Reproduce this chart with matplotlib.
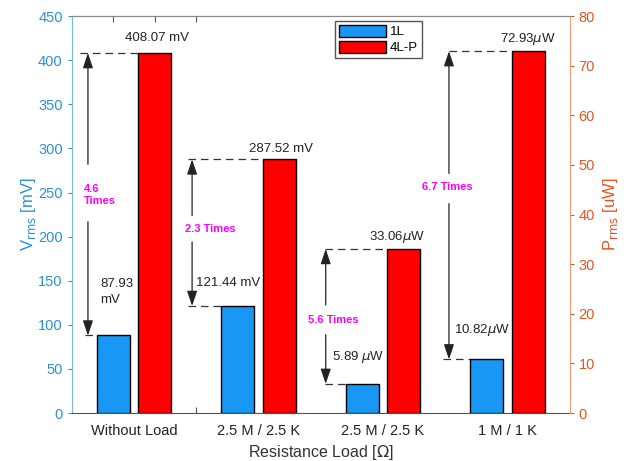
import matplotlib
matplotlib.use('Agg')
import matplotlib.pyplot as plt
from matplotlib.patches import Patch

plt.rcParams['font.family'] = ['Liberation Sans', 'DejaVu Sans']
plt.rcParams['mathtext.fontset'] = 'dejavusans'

groups = ['Without Load', '2.5 M / 2.5 K', '2.5 M / 2.5 K', '1 M / 1 K']
series = ['1L', '4L-P']
# first two groups on the voltage axis (mV), last two on the power axis (uW)
v_1l = [87.93, 121.44]
v_4lp = [408.07, 287.52]
p_1l = [5.89, 10.82]
p_4lp = [33.06, 72.93]
ratios = ['4.6\nTimes', '2.3 Times', '5.6 Times', '6.7 Times']

blue = '#1897f5'
red = '#ff0000'
lblue = '#2f8fd3'
orange = '#e5541e'

fig = plt.figure(figsize=(6.24, 4.61), dpi=100)
ax = fig.add_axes([0.115, 0.104, 0.798, 0.861])
ax2 = ax.twinx()

w = 0.8
xb = [1, 4, 7, 10]
xr = [2, 5, 8, 11]

ax.bar(xb[:2], v_1l, w, color=blue, edgecolor='black', lw=1, zorder=3)
ax.bar(xr[:2], v_4lp, w, color=red, edgecolor='black', lw=1, zorder=3)
ax2.bar(xb[2:], p_1l, w, color=blue, edgecolor='black', lw=1, zorder=3)
ax2.bar(xr[2:], p_4lp, w, color=red, edgecolor='black', lw=1, zorder=3)

ax.set_xlim(0, 12)
ax.set_ylim(0, 450)
ax2.set_ylim(0, 80)
ax.set_yticks(range(0, 451, 50))
ax2.set_yticks(range(0, 81, 10))
ax.set_xticks([1, 2, 3])
ax.set_xticklabels([])
ax.tick_params(axis='x', direction='in', top=True, length=4, color='#555555')
ax.tick_params(axis='y', colors=lblue, labelsize=10.5, length=3)
ax2.tick_params(axis='y', colors=orange, labelsize=10.5, length=3)

ax.spines['left'].set_color('#7ab6e6')
ax2.spines['left'].set_visible(False)
ax.spines['right'].set_visible(False)
ax2.spines['right'].set_color('#f09a78')
ax.spines['top'].set_color('#8a8a8a')
ax2.spines['top'].set_color('#8a8a8a')
ax.spines['bottom'].set_color('#5a5050')
ax2.spines['bottom'].set_visible(False)

ax.set_ylabel('V$_{\\rm rms}$ [mV]', color=lblue, fontsize=12, labelpad=0)
ax2.set_ylabel('P$_{\\rm rms}$ [uW]', color=orange, fontsize=12, labelpad=4)
ax.set_xlabel('Resistance Load [$\\Omega$]', fontsize=11.5, color='#333333', labelpad=18)

for i, g in enumerate(groups):
    ax.text((xb[i] + xr[i]) / 2, -0.027, g, transform=ax.get_xaxis_transform(),
            ha='center', va='top', fontsize=10.5, color='#222222')

tc = '#222222'
fs = 9.5
# value labels
ax.text(2.05, 408.07 + 10, '408.07 mV', ha='center', va='bottom', fontsize=fs, color=tc)
ax.text(5.05, 287.52 + 5, '287.52 mV', ha='center', va='bottom', fontsize=fs, color=tc)
ax.text(0.68, 137, '87.93\nmV', ha='left', va='center', fontsize=fs, color=tc, linespacing=1.5)
ax.text(3.0, 148, '121.44 mV', ha='left', va='center', fontsize=fs, color=tc)
ax2.text(7.85, 33.06 + 0.8, '33.06$\\mu$W', ha='center', va='bottom', fontsize=fs, color=tc)
ax2.text(6.27, 11.2, '5.89 $\\mu$W', ha='left', va='center', fontsize=fs, color=tc)
ax2.text(9.2, 16.8, '10.82$\\mu$W', ha='left', va='center', fontsize=fs, color=tc)
ax2.text(11.0, 72.93 + 0.8, '72.93$\\mu$W', ha='center', va='bottom', fontsize=fs, color=tc)

dash = dict(ls=(0, (6, 4)), color='#333333', lw=0.9, zorder=2)
ax.plot([0.2, 1.6], [v_4lp[0]] * 2, **dash)
ax.plot([0.32, 0.6], [v_1l[0]] * 2, **dash)
ax.plot([2.8, 4.6], [v_4lp[1]] * 2, **dash)
ax.plot([2.8, 3.6], [v_1l[1]] * 2, **dash)
ax2.plot([6.1, 7.6], [p_4lp[0]] * 2, **dash)
ax2.plot([6.1, 6.6], [p_1l[0]] * 2, **dash)
ax2.plot([9.09, 10.6], [p_4lp[1]] * 2, **dash)
ax2.plot([8.94, 9.6], [p_1l[1]] * 2, **dash)

arr = dict(arrowstyle='-|>,head_length=0.65,head_width=0.22', color='#222222', lw=0.9,
           mutation_scale=14, shrinkA=0, shrinkB=0)
mag = dict(color='#ff00ff', fontsize=8, fontweight='bold', va='center')

def ratio_arrow(a, x, top, bottom, ty, txt, tx, ha, gap_up, gap_dn):
    a.text(tx, ty, txt, ha=ha, multialignment='left', **mag)
    a.annotate('', xy=(x, top), xytext=(x, ty + gap_up), arrowprops=arr)
    a.annotate('', xy=(x, bottom), xytext=(x, ty - gap_dn), arrowprops=arr)

ratio_arrow(ax, 0.39, v_4lp[0], v_1l[0], 247, ratios[0], 0.3, 'left', 35, 30)
ratio_arrow(ax, 2.9, v_4lp[1], v_1l[1], 209, ratios[1], 3.35, 'center', 15, 15)
ratio_arrow(ax2, 6.12, p_4lp[0], p_1l[0], 18.8, ratios[2], 6.3, 'center', 3.0, 3.0)
ratio_arrow(ax2, 9.09, p_4lp[1], p_1l[1], 45.5, ratios[3], 9.05, 'center', 2.8, 3.3)

handles = [Patch(facecolor=blue, edgecolor='black', label=series[0]),
           Patch(facecolor=red, edgecolor='black', label=series[1])]
leg = ax2.legend(handles=handles, loc='upper left', bbox_to_anchor=(0.528, 0.988),
                 fontsize=9.5, handlelength=3.6, handleheight=1.0, fancybox=False,
                 framealpha=1, edgecolor='#555555', borderpad=0.3, labelspacing=0.2,
                 handletextpad=0.3, borderaxespad=0)
leg.get_frame().set_linewidth(1.0)

fig.savefig('out.png', dpi=100)
